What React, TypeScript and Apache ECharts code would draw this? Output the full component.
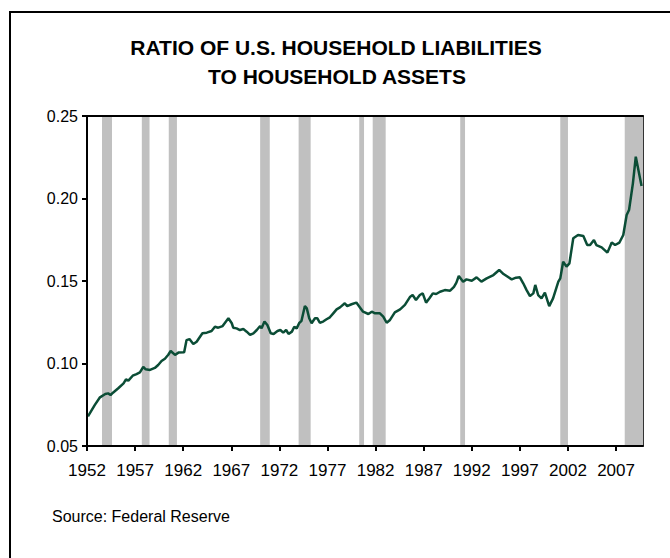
import React, { useEffect, useRef } from "react";
import * as echarts from "echarts";

const titleLines = ["RATIO OF U.S. HOUSEHOLD LIABILITIES", "TO HOUSEHOLD ASSETS"];
const sourceText = "Source: Federal Reserve";

const xTickYears = [1952, 1957, 1962, 1967, 1972, 1977, 1982, 1987, 1992, 1997, 2002, 2007];
const yTicks = [0.05, 0.1, 0.15, 0.2, 0.25];

const recessionStarts = [1953.56, 1957.7, 1960.5, 1970.0, 1974.0, 1980.3, 1981.7, 1990.8, 2001.2, 2007.9];
const recessionEnds = [1954.6, 1958.5, 1961.35, 1971.0, 1975.25, 1980.8, 1983.05, 1991.3, 2002.0, 2009.8];

const years = [
  1952.1, 1952.8, 1953.35, 1953.9, 1954.2, 1954.45, 1954.7, 1955.25, 1955.8, 1956.05,
  1956.3, 1956.75, 1957.15, 1957.5, 1957.85, 1958.1, 1958.55, 1959.05, 1959.4, 1959.75,
  1960.1, 1960.45, 1960.7, 1961.15, 1961.5, 1962.1, 1962.35, 1962.65, 1963.05, 1963.4,
  1963.75, 1964.0, 1964.45, 1964.95, 1965.3, 1965.65, 1966.1, 1966.35, 1966.7, 1967.05,
  1967.2, 1967.55, 1967.9, 1968.25, 1968.6, 1968.95, 1969.3, 1969.65, 1970.0, 1970.15,
  1970.45, 1970.75, 1971.1, 1971.4, 1971.8, 1972.1, 1972.4, 1972.7, 1972.95, 1973.3,
  1973.55, 1973.8, 1974.05, 1974.3, 1974.65, 1974.85, 1975.1, 1975.35, 1975.7, 1975.95,
  1976.2, 1976.55, 1976.9, 1977.25, 1977.6, 1977.95, 1978.3, 1978.8, 1979.05, 1979.5,
  1980.0, 1980.45, 1980.7, 1981.25, 1981.6, 1981.95, 1982.45, 1982.8, 1983.15, 1983.5,
  1984.0, 1984.55, 1985.05, 1985.6, 1985.85, 1986.2, 1986.6, 1986.9, 1987.25, 1987.6,
  1987.95, 1988.3, 1988.7, 1989.2, 1989.75, 1990.15, 1990.4, 1990.65, 1991.1, 1991.45,
  1992.0, 1992.5, 1993.0, 1993.55, 1994.25, 1994.85, 1995.3, 1996.15, 1996.6, 1997.0,
  1997.35, 1997.7, 1998.05, 1998.4, 1998.6, 1998.9, 1999.25, 1999.6, 2000.05, 2000.45,
  2001.0, 2001.2, 2001.5, 2001.85, 2002.15, 2002.55, 2003.05, 2003.6, 2004.0, 2004.3,
  2004.7, 2004.95, 2005.5, 2006.1, 2006.55, 2006.9, 2007.35, 2007.75, 2008.1, 2008.35,
  2008.75, 2009.05, 2009.65,
];

const ratios = [
  0.068, 0.0748, 0.0795, 0.0815, 0.0819, 0.0809, 0.0823, 0.085, 0.088, 0.0904,
  0.0896, 0.0926, 0.0936, 0.0946, 0.098, 0.0965, 0.0961, 0.0973, 0.0991, 0.1015,
  0.1029, 0.1053, 0.1076, 0.1052, 0.1066, 0.1068, 0.1142, 0.1148, 0.1118, 0.1132,
  0.1162, 0.1183, 0.1187, 0.1197, 0.1223, 0.1217, 0.1227, 0.1247, 0.1274, 0.1244,
  0.1217, 0.1213, 0.1203, 0.1209, 0.1193, 0.1173, 0.1183, 0.1203, 0.1227, 0.1213,
  0.1254, 0.1233, 0.1183, 0.1179, 0.1197, 0.1203, 0.1187, 0.1203, 0.1179, 0.1193,
  0.1223, 0.1213, 0.1244, 0.1259, 0.1348, 0.1334, 0.1274, 0.1244, 0.1274, 0.1274,
  0.1247, 0.1254, 0.1268, 0.128, 0.1304, 0.1328, 0.134, 0.1365, 0.1348, 0.1359,
  0.1369, 0.1334, 0.1314, 0.13, 0.1314, 0.1304, 0.1304, 0.1284, 0.1247, 0.1264,
  0.131, 0.1328, 0.1355, 0.1405, 0.1415, 0.1385, 0.1415, 0.1425, 0.1369, 0.1395,
  0.1425, 0.1421, 0.1435, 0.1445, 0.1441, 0.1465, 0.149, 0.153, 0.1496, 0.151,
  0.1502, 0.1522, 0.1496, 0.1516, 0.1536, 0.1567, 0.1542, 0.151, 0.152, 0.1522,
  0.1486, 0.1445, 0.1409, 0.1425, 0.1476, 0.1415, 0.1395, 0.1429, 0.1348, 0.1395,
  0.1496, 0.1516, 0.1617, 0.1587, 0.1607, 0.1759, 0.1779, 0.1773, 0.1718, 0.1718,
  0.1748, 0.1718, 0.1704, 0.1672, 0.1733, 0.1718, 0.1733, 0.1779, 0.19, 0.193,
  0.2092, 0.2253, 0.2076,
];

const X_MIN = 1952;
const X_MAX = 2009.8;

export default function App() {
  const ref = useRef<HTMLDivElement>(null);

  useEffect(() => {
    if (!ref.current) return;
    const chart = echarts.init(ref.current, null, { renderer: "svg" });
    const font = "Arial, 'Liberation Sans', Helvetica, sans-serif";

    const lineData = years.map((y, i) => [y, ratios[i]]);
    const bands = recessionStarts.map((s, i) => [{ xAxis: s }, { xAxis: recessionEnds[i] }]);

    chart.setOption({
      animation: false,
      backgroundColor: "#ffffff",
      textStyle: { fontFamily: font },
      grid: { left: 87, right: 27, top: 116, bottom: 112, containLabel: false },
      graphic: [
        {
          type: "rect",
          shape: { x: 10, y: 12, width: 720, height: 620 },
          style: { fill: "none", stroke: "#000000", lineWidth: 2 },
          silent: true,
        },
        {
          type: "text",
          x: 336,
          y: 47,
          style: {
            text: titleLines[0],
            fontFamily: font,
            fontSize: 21,
            fontWeight: "bold",
            fill: "#000",
            align: "center",
            verticalAlign: "middle",
          },
        },
        {
          type: "text",
          x: 337,
          y: 76,
          style: {
            text: titleLines[1],
            fontFamily: font,
            fontSize: 21,
            fontWeight: "bold",
            fill: "#000",
            align: "center",
            verticalAlign: "middle",
          },
        },
        {
          type: "text",
          x: 52,
          y: 516,
          style: {
            text: sourceText,
            fontFamily: font,
            fontSize: 16,
            fill: "#000",
            align: "left",
            verticalAlign: "middle",
          },
        },
      ],
      xAxis: [
        {
          type: "value",
          min: X_MIN,
          max: X_MAX,
          z: 5,
          splitLine: { show: false },
          axisLine: { show: true, onZero: false, lineStyle: { color: "#000", width: 2 } },
          axisTick: {
            show: true,
            length: 5,
            inside: false,
            customValues: xTickYears,
            lineStyle: { color: "#000", width: 2 },
          },
          axisLabel: {
            show: true,
            customValues: xTickYears,
            margin: 16,
            fontSize: 17,
            color: "#000",
            fontFamily: font,
            formatter: (v: number) => String(Math.round(v)),
          },
        },
        {
          type: "value",
          position: "top",
          min: X_MIN,
          max: X_MAX,
          z: 5,
          splitLine: { show: false },
          axisLine: { show: true, onZero: false, lineStyle: { color: "#000", width: 2 } },
          axisTick: { show: false },
          axisLabel: { show: false },
        },
      ],
      yAxis: [
        {
          type: "value",
          min: yTicks[0],
          max: yTicks[yTicks.length - 1],
          interval: 0.05,
          z: 5,
          splitLine: { show: false },
          axisLine: { show: true, onZero: false, lineStyle: { color: "#000", width: 2 } },
          axisTick: { show: true, length: 5, lineStyle: { color: "#000", width: 2 } },
          axisLabel: {
            margin: 9,
            fontSize: 16,
            color: "#000",
            fontFamily: font,
            formatter: (v: number) => v.toFixed(2),
          },
        },
        {
          type: "value",
          position: "right",
          min: yTicks[0],
          max: yTicks[yTicks.length - 1],
          interval: 0.05,
          z: 5,
          splitLine: { show: false },
          axisLine: { show: true, onZero: false, lineStyle: { color: "#333", width: 1 } },
          axisTick: { show: false },
          axisLabel: { show: false },
        },
      ],
      series: [
        {
          type: "line",
          name: "recessions",
          data: [],
          z: 1,
          silent: true,
          markArea: {
            silent: true,
            itemStyle: { color: "#c0c0c0", opacity: 1 },
            data: bands,
          },
        },
        {
          type: "line",
          name: "ratio",
          data: lineData,
          z: 3,
          showSymbol: false,
          symbol: "none",
          smooth: false,
          lineStyle: { color: "#0b4d36", width: 2.5 },
        },
      ],
    });

    return () => chart.dispose();
  }, []);

  return (
    <div
      ref={ref}
      style={{ position: "fixed", left: 0, top: 0, width: 670, height: 558, background: "#fff" }}
    />
  );
}
